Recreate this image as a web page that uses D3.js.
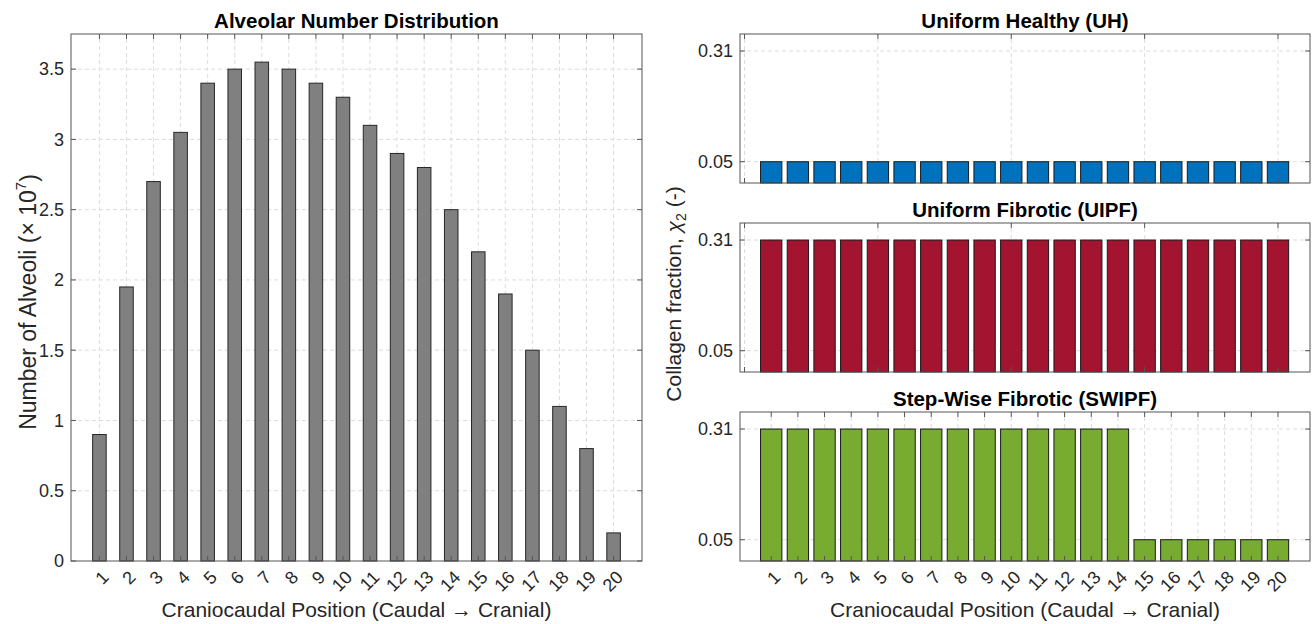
<!DOCTYPE html>
<html>
<head>
<meta charset="utf-8">
<script src="https://cdn.jsdelivr.net/npm/d3@7"></script>
<style>
    body { margin: 0; background: #fff; }
    svg { font-family: "Liberation Sans", Arial, Helvetica, sans-serif; }
    .grid line { stroke: #dcdcdc; stroke-dasharray: 4,3; }
    .tick-label { font-size: 18px; fill: #262626; }
    .title { font-size: 20.5px; font-weight: bold; fill: #000; }
    .label { font-size: 21px; fill: #262626; }
</style>
</head>
<body>
<div id="chart"></div>
<script>
// chart values
var positions = [1, 2, 3, 4, 5, 6, 7, 8, 9, 10, 11, 12, 13, 14, 15, 16, 17, 18, 19, 20];
var alveoli = [0.9, 1.95, 2.7, 3.05, 3.4, 3.5, 3.55, 3.5, 3.4, 3.3, 3.1, 2.9, 2.8, 2.5, 2.2, 1.9, 1.5, 1.1, 0.8, 0.2];
var alveoliTicks = [0, 0.5, 1, 1.5, 2, 2.5, 3, 3.5];
var collagenTicks = [0.05, 0.31];
var sparseTicks = [0, 5, 10, 15, 20];

var uh = [0.05, 0.05, 0.05, 0.05, 0.05, 0.05, 0.05, 0.05, 0.05, 0.05, 0.05, 0.05, 0.05, 0.05, 0.05, 0.05, 0.05, 0.05, 0.05, 0.05];
var uipf = [0.31, 0.31, 0.31, 0.31, 0.31, 0.31, 0.31, 0.31, 0.31, 0.31, 0.31, 0.31, 0.31, 0.31, 0.31, 0.31, 0.31, 0.31, 0.31, 0.31];
var swipf = [0.31, 0.31, 0.31, 0.31, 0.31, 0.31, 0.31, 0.31, 0.31, 0.31, 0.31, 0.31, 0.31, 0.31, 0.05, 0.05, 0.05, 0.05, 0.05, 0.05];

var panelTitles = ["Uniform Healthy (UH)", "Uniform Fibrotic (UIPF)", "Step-Wise Fibrotic (SWIPF)"];
var panelColors = ["#0072BD", "#A2142F", "#77AC30"];

var width = 1314;
var height = 624;

var svg = d3.select("#chart").append("svg")
    .attr("width", width)
    .attr("height", height);

// draws one boxed MATLAB-like axes with bars
function drawPanel(opts) {
    var x = opts.x;
    var y = opts.y;
    var x0 = x.range()[0], x1 = x.range()[1];
    var y0 = y.range()[0], y1 = y.range()[1];
    var g = svg.append("g");

    // grid
    var grid = g.append("g").attr("class", "grid");
    grid.selectAll(".gx")
        .data(opts.xTicks)
        .enter().append("line")
        .attr("x1", function (d) { return x(d); })
        .attr("x2", function (d) { return x(d); })
        .attr("y1", y0)
        .attr("y2", y1);
    grid.selectAll(".gy")
        .data(opts.yTicks.filter(function (d) { return d > 0; }))
        .enter().append("line")
        .attr("x1", x0)
        .attr("x2", x1)
        .attr("y1", function (d) { return y(d); })
        .attr("y2", function (d) { return y(d); });

    // bars
    var bw = x(opts.barWidth) - x(0);
    g.selectAll("rect.bar")
        .data(opts.values)
        .enter().append("rect")
        .attr("class", "bar")
        .attr("x", function (d, i) { return x(positions[i]) - bw / 2; })
        .attr("y", function (d) { return y(d); })
        .attr("width", bw)
        .attr("height", function (d) { return y(0) - y(d); })
        .attr("fill", opts.color)
        .attr("stroke", opts.edge)
        .attr("stroke-width", 1);

    // tick marks, inward on all four sides
    var tl = 5;
    var ticks = g.append("g").attr("stroke", "#555").attr("stroke-width", 1);
    opts.xTicks.forEach(function (d) {
        ticks.append("line").attr("x1", x(d)).attr("x2", x(d)).attr("y1", y0).attr("y2", y0 - tl);
        ticks.append("line").attr("x1", x(d)).attr("x2", x(d)).attr("y1", y1).attr("y2", y1 + tl);
    });
    opts.yTicks.forEach(function (d) {
        ticks.append("line").attr("x1", x0).attr("x2", x0 + tl).attr("y1", y(d)).attr("y2", y(d));
        ticks.append("line").attr("x1", x1).attr("x2", x1 - tl).attr("y1", y(d)).attr("y2", y(d));
    });

    // box
    g.append("rect")
        .attr("x", x0)
        .attr("y", y1)
        .attr("width", x1 - x0)
        .attr("height", y0 - y1)
        .attr("fill", "none")
        .attr("stroke", "#555")
        .attr("stroke-width", 1);

    // y tick labels
    g.selectAll("text.yt")
        .data(opts.yTicks)
        .enter().append("text")
        .attr("class", "tick-label")
        .attr("x", x0 - 7)
        .attr("y", function (d) { return y(d); })
        .attr("dy", "0.35em")
        .attr("text-anchor", "end")
        .text(function (d) { return opts.yFormat(d); });

    // rotated x tick labels
    if (opts.xLabels) {
        g.selectAll("text.xt")
            .data(opts.xTicks)
            .enter().append("text")
            .attr("class", "tick-label")
            .attr("text-anchor", "end")
            .attr("dy", "0.35em")
            .attr("transform", function (d) {
                return "translate(" + (x(d) + 6) + "," + (y0 + 13) + ") rotate(-45)";
            })
            .text(function (d) { return d; });
    }

    // title
    g.append("text")
        .attr("class", "title")
        .attr("x", (x0 + x1) / 2)
        .attr("y", y1 - 6)
        .attr("text-anchor", "middle")
        .text(opts.title);

    return g;
}

// left: alveolar number distribution
var xL = d3.scaleLinear().domain([-0.05, 21.05]).range([71, 642]);
var yL = d3.scaleLinear().domain([0, 3.75]).range([561, 34]);

drawPanel({
    x: xL,
    y: yL,
    values: alveoli,
    barWidth: 0.5,
    color: "#808080",
    edge: "#262626",
    xTicks: positions,
    yTicks: alveoliTicks,
    yFormat: function (d) { return d; },
    xLabels: true,
    title: "Alveolar Number Distribution"
});

// right: three collagen fraction panels
var xR = d3.scaleLinear().domain([-0.17, 21.2]).range([740, 1310]);
var panelTops = [34, 223, 412];
var panelData = [uh, uipf, swipf];

panelData.forEach(function (vals, i) {
    var yR = d3.scaleLinear().domain([0, 0.35]).range([panelTops[i] + 149, panelTops[i]]);
    var last = i === panelData.length - 1;
    drawPanel({
        x: xR,
        y: yR,
        values: vals,
        barWidth: 0.8,
        color: panelColors[i],
        edge: "#1a1a1a",
        xTicks: last ? positions : sparseTicks,
        yTicks: collagenTicks,
        yFormat: d3.format(".2f"),
        xLabels: last,
        title: panelTitles[i]
    });
});

// axis labels
svg.append("text")
    .attr("class", "label")
    .attr("x", (71 + 642) / 2)
    .attr("y", 617)
    .attr("text-anchor", "middle")
    .text("Craniocaudal Position (Caudal \u2192 Cranial)");

svg.append("text")
    .attr("class", "label")
    .attr("x", (740 + 1310) / 2)
    .attr("y", 617)
    .attr("text-anchor", "middle")
    .text("Craniocaudal Position (Caudal \u2192 Cranial)");

var yl = svg.append("text")
    .attr("class", "label")
    .style("font-size", "23px")
    .attr("text-anchor", "middle")
    .attr("transform", "translate(36,302) rotate(-90)");
yl.append("tspan").text("Number of Alveoli (\u00d7 10");
yl.append("tspan").attr("font-size", "15px").attr("dy", "-0.65em").text("7");
yl.append("tspan").attr("dy", "0.45em").text(")");

var yr = svg.append("text")
    .attr("class", "label")
    .attr("text-anchor", "middle")
    .attr("transform", "translate(681,294) rotate(-90)");
yr.append("tspan").text("Collagen fraction, ");
yr.append("tspan").attr("font-style", "italic").text("\u03c7");
yr.append("tspan").attr("font-size", "14px").attr("dy", "0.35em").text("2");
yr.append("tspan").attr("dy", "-0.25em").text(" (-)");
</script>
</body>
</html>
